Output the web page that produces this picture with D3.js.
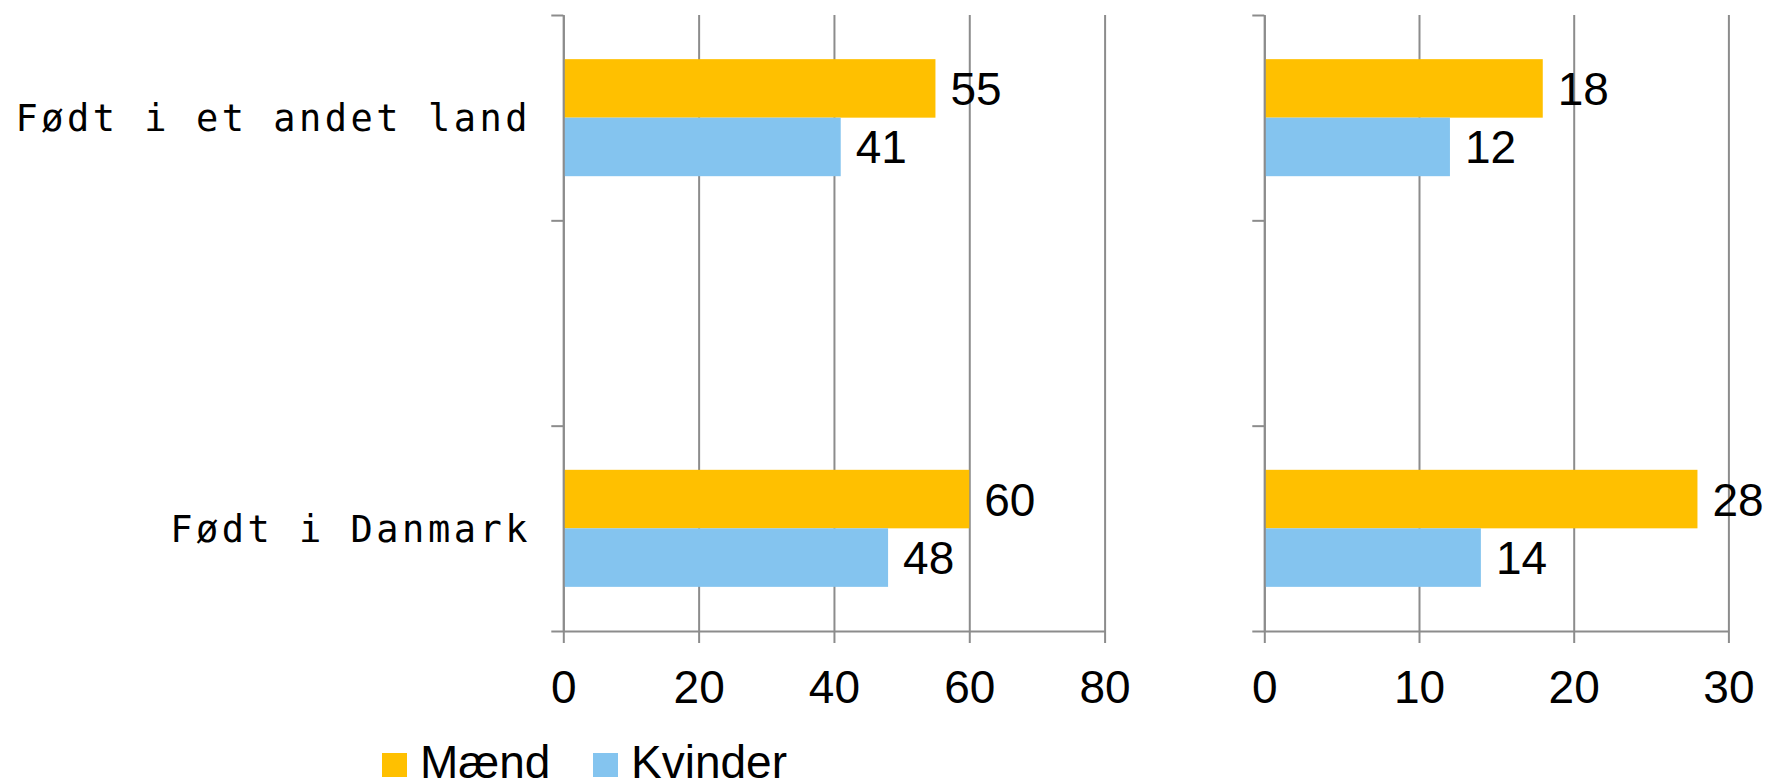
<!DOCTYPE html>
<html>
<head>
<meta charset="utf-8">
<script src="https://cdn.jsdelivr.net/npm/d3@7"></script>
<style>
  body { margin: 0; background: #fff; }
  text { font-family: "Liberation Sans", Arial, sans-serif; fill: #000; }
</style>
</head>
<body>
<svg width="1767" height="782"></svg>
<script>
// data
var categories = ["Født i et andet land", "", "Født i Danmark"];
var series = ["Mænd", "Kvinder"];
var colors = ["#FFC000", "#84C4EF"];

// left panel values (middle category is empty)
var leftMaend = [55, null, 60];
var leftKvinder = [41, null, 48];
var leftTicks = [0, 20, 40, 60, 80];

// right panel values
var rightMaend = [18, null, 28];
var rightKvinder = [12, null, 14];
var rightTicks = [0, 10, 20, 30];

var svg = d3.select("svg");
var plotTop = 15, plotBottom = 631;
var gridColor = "#8c8c8c";

//band scale for category rows
var y = d3.scaleBand()
    .domain(d3.range(categories.length))
    .range([plotTop, plotBottom])
    .paddingInner(0.43)
    .paddingOuter(0.215);

//sub scale for the two series inside a row
var ySub = d3.scaleBand()
    .domain(series)
    .range([0, y.bandwidth()]);

//linear scale used only for the tick marks between categories
var yTicks = d3.scaleLinear().domain([0, categories.length]).range([plotTop, plotBottom]);

var panels = [
    {x0: 563.3, x1: 1104.6, max: 80, ticks: leftTicks, values: [leftMaend, leftKvinder]},
    {x0: 1264.3, x1: 1728.4, max: 30, ticks: rightTicks, values: [rightMaend, rightKvinder]}
];

panels.forEach(function(p) {
    var x = d3.scaleLinear().domain([0, p.max]).range([p.x0, p.x1]);
    var g = svg.append("g");

    //vertical gridlines
    var grid = g.append("g")
        .attr("transform", "translate(0," + plotBottom + ")")
        .call(d3.axisBottom(x).tickValues(p.ticks).tickSize(-(plotBottom - plotTop)).tickFormat(""));
    grid.select(".domain").remove();
    grid.selectAll("line").attr("stroke", gridColor).attr("stroke-width", 2);

    //bars
    p.values.forEach(function(vals, si) {
        var rows = vals.map(function(v, i) { return {v: v, i: i}; })
            .filter(function(d) { return d.v != null; });

        g.append("g").selectAll("rect")
            .data(rows)
            .enter()
            .append("rect")
            .attr("x", x(0))
            .attr("y", function(d) { return y(d.i) + ySub(series[si]); })
            .attr("width", function(d) { return x(d.v) - x(0); })
            .attr("height", ySub.bandwidth())
            .attr("fill", colors[si]);

        g.append("g").selectAll("text")
            .data(rows)
            .enter()
            .append("text")
            .attr("x", function(d) { return x(d.v) + 15; })
            .attr("y", function(d) { return y(d.i) + ySub(series[si]) + ySub.bandwidth() / 2; })
            .attr("dy", "0.36em")
            .attr("font-size", 46)
            .text(function(d) { return d.v; });
    });

    //x axis at the bottom
    var xAxis = g.append("g")
        .attr("transform", "translate(0," + plotBottom + ")")
        .call(d3.axisBottom(x).tickValues(p.ticks).tickSize(12).tickSizeOuter(0).tickPadding(27));
    xAxis.select(".domain").attr("stroke", gridColor).attr("stroke-width", 2);
    xAxis.selectAll("line").attr("stroke", gridColor).attr("stroke-width", 2);
    xAxis.selectAll("text")
        .attr("font-size", 46)
        .attr("font-family", "'Liberation Sans', Arial, sans-serif")
        .attr("fill", "#000");

    //y axis with ticks between the categories
    var yAxis = g.append("g")
        .attr("transform", "translate(" + x(0) + ",0)")
        .call(d3.axisLeft(yTicks).tickValues(d3.range(categories.length + 1)).tickSize(12).tickSizeOuter(0).tickFormat(""));
    yAxis.select(".domain").attr("stroke", gridColor).attr("stroke-width", 2);
    yAxis.selectAll("line").attr("stroke", gridColor).attr("stroke-width", 2);
});

//category labels on the left
svg.append("g").selectAll("text")
    .data(categories)
    .enter()
    .append("text")
    .attr("x", 531)
    .attr("y", function(d, i) { return y(i) + y.bandwidth() / 2; })
    .attr("dy", "0.36em")
    .attr("text-anchor", "end")
    .style("font-family", "'DejaVu Sans Mono', monospace")
    .attr("font-size", 37)
    .attr("letter-spacing", 3.5)
    .text(function(d) { return d; });

//legend
var legend = svg.append("g").selectAll("g")
    .data(series)
    .enter()
    .append("g")
    .attr("transform", function(d, i) { return "translate(" + [382 + i * 211, 753] + ")"; });

legend.append("rect")
    .attr("width", 25)
    .attr("height", 24)
    .attr("fill", function(d, i) { return colors[i]; });

legend.append("text")
    .attr("x", 38)
    .attr("y", 25)
    .attr("font-size", 46)
    .text(function(d) { return d; });
</script>
</body>
</html>
